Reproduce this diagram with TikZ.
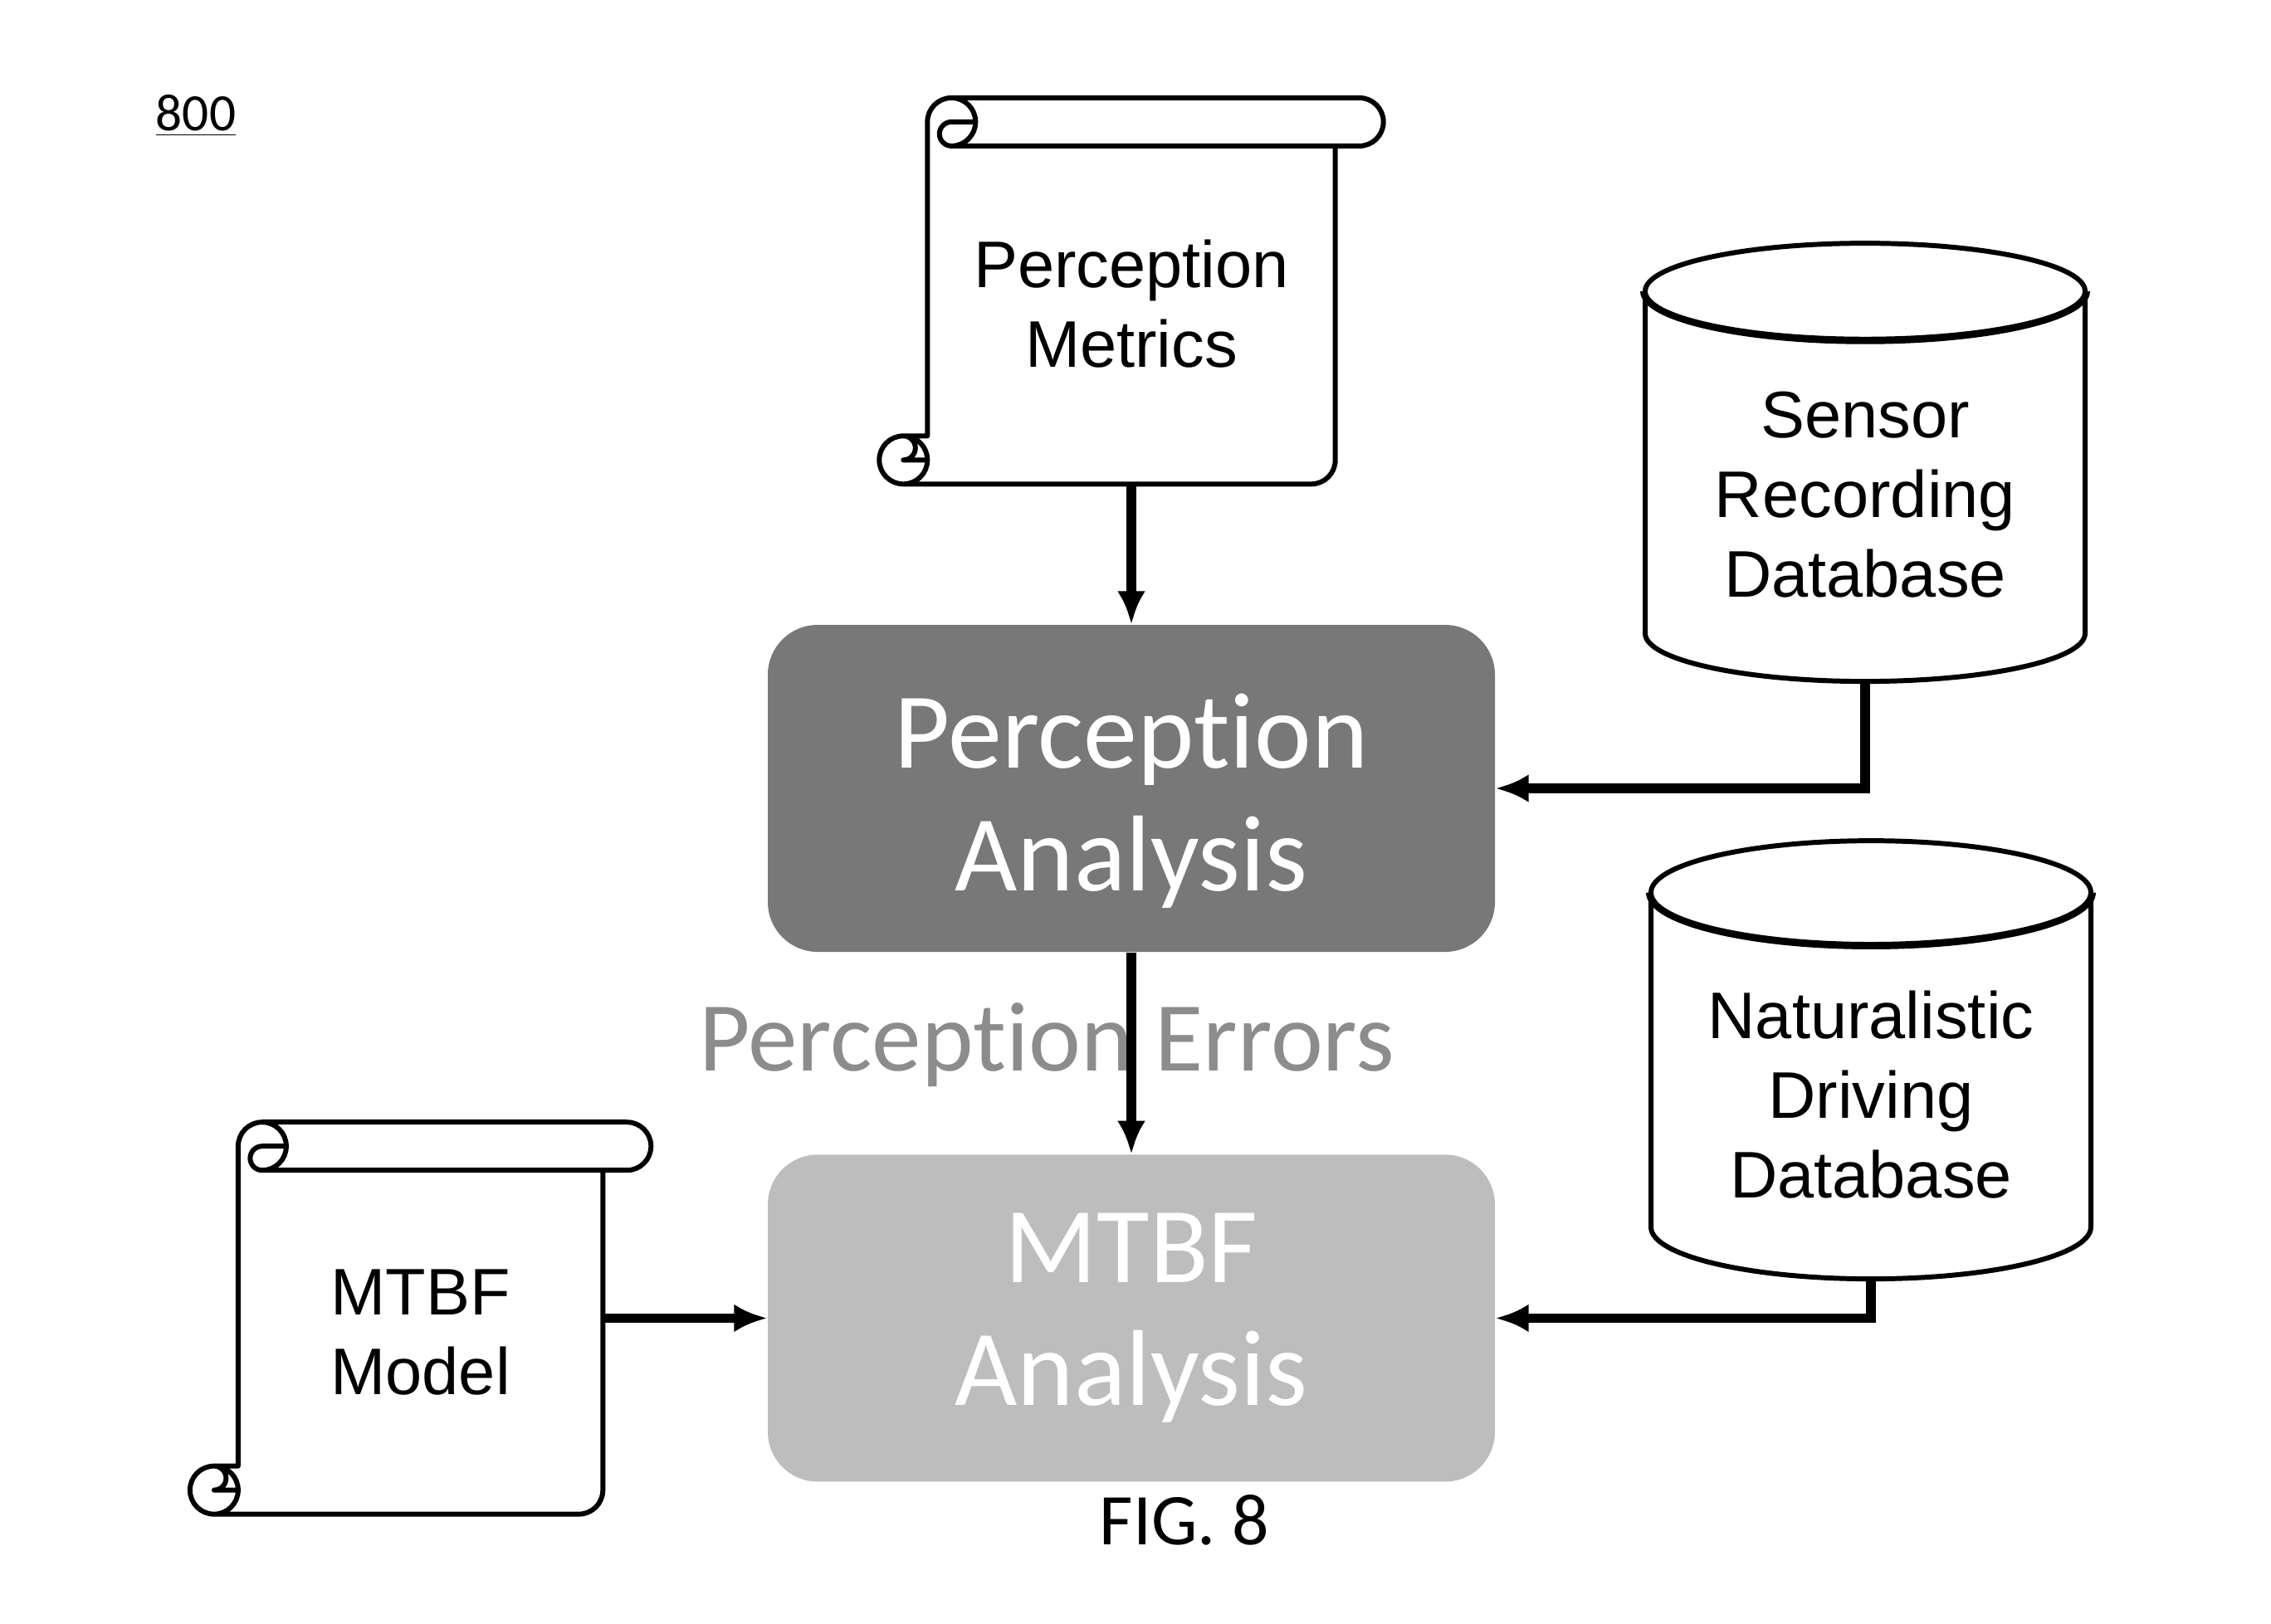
\documentclass[tikz,border=0pt]{standalone}
\usepackage{fontspec}
\setmainfont{Liberation Sans}
\newfontfamily\calibri[Ligatures=NoCommon]{Carlito}
\usetikzlibrary{shapes,positioning,calc,arrows.meta}
\definecolor{darkbox}{gray}{0.47}
\definecolor{lightbox}{gray}{0.74}
\definecolor{labelgray}{gray}{0.55}

\begin{document}
\begin{tikzpicture}
  [process/.style={
    rectangle,
    rounded corners=0.6cm,
    minimum width=8.76cm,
    minimum height=3.94cm,
    align=center,
    text=white,
    font=\calibri\fontsize{37}{42}\selectfont
    },
   scroll/.style={
    rectangle,
    inner sep=0pt,
    align=center,
    text height=1.84cm,
    font=\fontsize{22.6}{27.3}\selectfont
    },
   scrollline/.style={draw, line width=1.7pt, line join=round},
   database/.style={
    cylinder,
    shape border rotate=90,
    aspect=0.3,
    draw,
    line width=1.7pt,
    minimum width=5.3cm,
    minimum height=5.28cm,
    align=center,
    font=\fontsize{22.6}{27.3}\selectfont
    },
   flow/.style={-{Latex[length=0.4cm,width=0.34cm]}, line width=3.2pt}
  ]
  \useasboundingbox (0,0) rectangle (27.36,-19.56);

  % FIGURE NUMBER
  \node [font=\calibri\fontsize{18}{20}\selectfont, anchor=base] (fignum) at (2.36,-1.57) {\underline{800}};

  % PROCESSES
  \node [process, fill=darkbox, text height=2.67cm] (percan) at (13.63,-9.50) {Perception\\Analysis};
  \node [process, fill=lightbox, below=2.43cm of percan] (mtbfan) {MTBF\\Analysis};

  % DOCUMENTS
  \node [scroll, minimum width=4.90cm, minimum height=4.64cm, above=1.69cm of percan] (pmetrics) {Perception\\Metrics};
  \node [scroll, minimum width=4.38cm, minimum height=4.71cm, left=1.98cm of mtbfan] (mtbfmodel) {MTBF\\Model};

  \draw[scrollline]
    ($(pmetrics.south west)+(0,0.58)$) -- ($(pmetrics.north west)+(0,-0.29)$)
    arc[start angle=180, end angle=90, radius=0.29]
    -- ($(pmetrics.north east)+(0.29,0)$)
    arc[start angle=90, end angle=-90, radius=0.29]
    -- ($(pmetrics.north east)+(0,-0.58)$)
    -- ($(pmetrics.south east)+(0,0.29)$)
    arc[start angle=0, end angle=-90, radius=0.29]
    -- ($(pmetrics.south west)+(-0.29,0)$)
    arc[start angle=-90, end angle=-270, radius=0.29]
    -- cycle
    ($(pmetrics.north west)+(0.29,0)$)
    arc[start angle=90, end angle=-90, radius=0.29]
    arc[start angle=-90, end angle=-270, radius=0.145]
    -- ($(pmetrics.north west)+(0.58,-0.29)$)
    ($(pmetrics.north east)+(0,-0.58)$) -- ($(pmetrics.north west)+(0.29,-0.58)$)
    ($(pmetrics.south west)+(-0.29,0.58)$)
    arc[start angle=90, end angle=-90, radius=0.145]
    -- ($(pmetrics.south west)+(0,0.29)$)
    ($(pmetrics.south west)+(-0.29,0)$)
    arc[start angle=-90, end angle=90, radius=0.29];

  \draw[scrollline]
    ($(mtbfmodel.south west)+(0,0.58)$) -- ($(mtbfmodel.north west)+(0,-0.29)$)
    arc[start angle=180, end angle=90, radius=0.29]
    -- ($(mtbfmodel.north east)+(0.29,0)$)
    arc[start angle=90, end angle=-90, radius=0.29]
    -- ($(mtbfmodel.north east)+(0,-0.58)$)
    -- ($(mtbfmodel.south east)+(0,0.29)$)
    arc[start angle=0, end angle=-90, radius=0.29]
    -- ($(mtbfmodel.south west)+(-0.29,0)$)
    arc[start angle=-90, end angle=-270, radius=0.29]
    -- cycle
    ($(mtbfmodel.north west)+(0.29,0)$)
    arc[start angle=90, end angle=-90, radius=0.29]
    arc[start angle=-90, end angle=-270, radius=0.145]
    -- ($(mtbfmodel.north west)+(0.58,-0.29)$)
    ($(mtbfmodel.north east)+(0,-0.58)$) -- ($(mtbfmodel.north west)+(0.29,-0.58)$)
    ($(mtbfmodel.south west)+(-0.29,0.58)$)
    arc[start angle=90, end angle=-90, radius=0.145]
    -- ($(mtbfmodel.south west)+(0,0.29)$)
    ($(mtbfmodel.south west)+(-0.29,0)$)
    arc[start angle=-90, end angle=90, radius=0.29];

  % DATABASES
  \node [database] (sensor) at (22.47,-5.96) {Sensor\\Recording\\Database};
  \node [database] (natural) at (22.54,-13.19) {Naturalistic\\Driving\\Database};

  \draw[line width=1.7pt] let \p1=($(sensor.after top)-(sensor.before top)$), \p2=($(sensor.top)-(sensor.before top)$) in
    (sensor.before top) arc[start angle=180, end angle=360, x radius={abs(\x1)/2}, y radius={abs(\y2)}];
  \draw[line width=1.7pt] let \p1=($(natural.after top)-(natural.before top)$), \p2=($(natural.top)-(natural.before top)$) in
    (natural.before top) arc[start angle=180, end angle=360, x radius={abs(\x1)/2}, y radius={abs(\y2)}];

  % LABELS
  \node [font=\calibri\fontsize{33.9}{36}\selectfont, text=labelgray, anchor=base] (errors) at ($(percan.south)+(-1.02,-1.43)$) {Perception Errors};
  \node [font=\calibri\fontsize{25}{28}\selectfont, anchor=base] (figlabel) at ($(mtbfan.south)+(0.64,-0.75)$) {FIG. 8};

  % CONNECTORS
  \draw[flow] (pmetrics.south) -- (percan.north);
  \draw[flow] (percan.south) -- (mtbfan.north);
  \draw[flow] (mtbfmodel.east) -- (mtbfan.west);
  \draw[flow] (sensor.south) |- (percan.east);
  \draw[flow] (natural.south) |- (mtbfan.east);
\end{tikzpicture}
\end{document}
